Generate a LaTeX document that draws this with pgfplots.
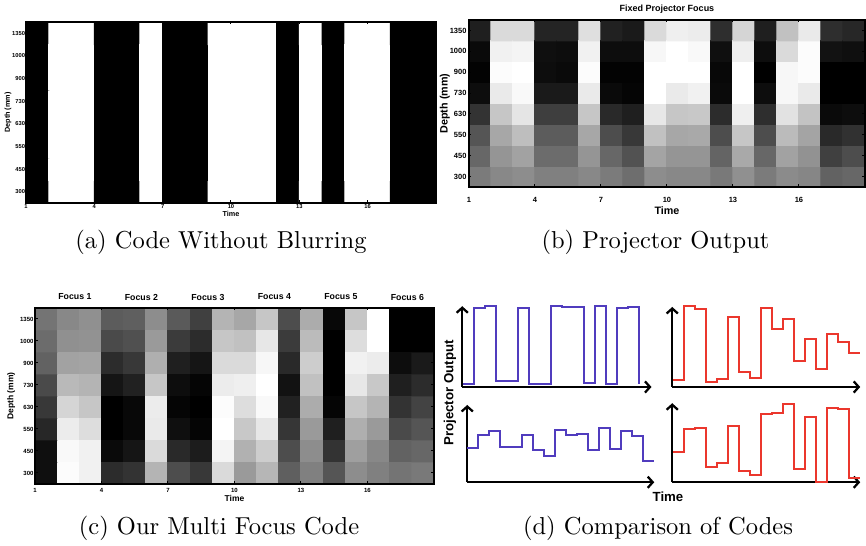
\documentclass[border=0pt]{standalone}
\usepackage{fontspec}
\setsansfont{Liberation Sans}
\usepackage{pgfplots}
\pgfplotsset{compat=1.18}
\usetikzlibrary{arrows.meta}
\definecolor{codeblue}{RGB}{80,60,190}
\definecolor{codered}{RGB}{235,55,45}
\pgfplotsset{
 hm/.style={scale only axis, anchor=south west, xmin=1, xmax=19, ymin=0.5, ymax=8.5,
  enlargelimits=false, axis on top, colormap/blackwhite, point meta min=0, point meta max=1,
  xtick={1,4,7,10,13,16}, ytick={1,2,3,4,5,6,7,8},
  yticklabels={300,450,550,630,730,900,1000,1350},
  major tick length=1pt, tick style={black, line width=0.4pt},
  /pgf/number format/assume math mode=true,
  axis line style={line width=0.5pt},
  ylabel={Depth (mm)}, xlabel={Time},
  yticklabel style={anchor=east, inner sep=0pt},
  xticklabel style={anchor=center, inner sep=0pt},
  xlabel style={anchor=center}, ylabel style={anchor=center, rotate=0}},
 st/.style={scale only axis, anchor=south west, axis lines=left, xtick=\empty, ytick=\empty,
  ymin=0, clip=false,
  axis line style={line width=0.9pt, -{Straight Barb[length=2pt,width=4.5pt]}}},
 sp/.style={line width=0.8pt, const plot, mark=none}
}
\newcommand{\sfb}[1]{\sffamily\bfseries\fontsize{#1}{#1}\selectfont}
\begin{document}
\begin{tikzpicture}
\path[use as bounding box] (0pt,0pt) rectangle (346.4pt,-218.4pt);
% (a)
\begin{axis}[hm, at={(10.4pt,-81.2pt)}, width=164pt, height=72.4pt,
  tick label style={font=\sfb{2.3}},
  label style={font=\sfb{2.9}},
  xticklabel style={yshift=-1.6pt},
  yticklabel style={xshift=-0.2pt},
  xlabel style={at={(axis description cs:0.5,-0.061)}},
  ylabel style={at={(axis description cs:-0.044,0.5)}}]
\addplot[matrix plot*, mesh/cols=18, point meta=explicit] coordinates {
(1.5,1)[0] (2.5,1)[1] (3.5,1)[1] (4.5,1)[0] (5.5,1)[0] (6.5,1)[1] (7.5,1)[0] (8.5,1)[0] (9.5,1)[1] (10.5,1)[1] (11.5,1)[1] (12.5,1)[0] (13.5,1)[1] (14.5,1)[0] (15.5,1)[1] (16.5,1)[1] (17.5,1)[0] (18.5,1)[0]
(1.5,2)[0] (2.5,2)[1] (3.5,2)[1] (4.5,2)[0] (5.5,2)[0] (6.5,2)[1] (7.5,2)[0] (8.5,2)[0] (9.5,2)[1] (10.5,2)[1] (11.5,2)[1] (12.5,2)[0] (13.5,2)[1] (14.5,2)[0] (15.5,2)[1] (16.5,2)[1] (17.5,2)[0] (18.5,2)[0]
(1.5,3)[0] (2.5,3)[1] (3.5,3)[1] (4.5,3)[0] (5.5,3)[0] (6.5,3)[1] (7.5,3)[0] (8.5,3)[0] (9.5,3)[1] (10.5,3)[1] (11.5,3)[1] (12.5,3)[0] (13.5,3)[1] (14.5,3)[0] (15.5,3)[1] (16.5,3)[1] (17.5,3)[0] (18.5,3)[0]
(1.5,4)[0] (2.5,4)[1] (3.5,4)[1] (4.5,4)[0] (5.5,4)[0] (6.5,4)[1] (7.5,4)[0] (8.5,4)[0] (9.5,4)[1] (10.5,4)[1] (11.5,4)[1] (12.5,4)[0] (13.5,4)[1] (14.5,4)[0] (15.5,4)[1] (16.5,4)[1] (17.5,4)[0] (18.5,4)[0]
(1.5,5)[0] (2.5,5)[1] (3.5,5)[1] (4.5,5)[0] (5.5,5)[0] (6.5,5)[1] (7.5,5)[0] (8.5,5)[0] (9.5,5)[1] (10.5,5)[1] (11.5,5)[1] (12.5,5)[0] (13.5,5)[1] (14.5,5)[0] (15.5,5)[1] (16.5,5)[1] (17.5,5)[0] (18.5,5)[0]
(1.5,6)[0] (2.5,6)[1] (3.5,6)[1] (4.5,6)[0] (5.5,6)[0] (6.5,6)[1] (7.5,6)[0] (8.5,6)[0] (9.5,6)[1] (10.5,6)[1] (11.5,6)[1] (12.5,6)[0] (13.5,6)[1] (14.5,6)[0] (15.5,6)[1] (16.5,6)[1] (17.5,6)[0] (18.5,6)[0]
(1.5,7)[0] (2.5,7)[1] (3.5,7)[1] (4.5,7)[0] (5.5,7)[0] (6.5,7)[1] (7.5,7)[0] (8.5,7)[0] (9.5,7)[1] (10.5,7)[1] (11.5,7)[1] (12.5,7)[0] (13.5,7)[1] (14.5,7)[0] (15.5,7)[1] (16.5,7)[1] (17.5,7)[0] (18.5,7)[0]
(1.5,8)[0] (2.5,8)[1] (3.5,8)[1] (4.5,8)[0] (5.5,8)[0] (6.5,8)[1] (7.5,8)[0] (8.5,8)[0] (9.5,8)[1] (10.5,8)[1] (11.5,8)[1] (12.5,8)[0] (13.5,8)[1] (14.5,8)[0] (15.5,8)[1] (16.5,8)[1] (17.5,8)[0] (18.5,8)[0]
};
\end{axis}
% (b)
\begin{axis}[hm, at={(187.6pt,-74.8pt)}, width=158.4pt, height=66.8pt,
  tick label style={font=\sfb{3.0}},
  label style={font=\sfb{4.3}},
  xticklabel style={yshift=-5.1pt},
  yticklabel style={xshift=-0.8pt},
  xlabel style={at={(axis description cs:0.5,-0.144)}},
  ylabel style={at={(axis description cs:-0.061,0.5)}},
  title={Fixed Projector Focus},
  title style={at={(axis description cs:0.5,1)}, anchor=center, yshift=-1.6pt, inner sep=0pt, font=\sfb{3.6}}]
\addplot[matrix plot*, mesh/cols=18, point meta=explicit] coordinates {
(1.5,1)[0.48] (2.5,1)[0.53] (3.5,1)[0.55] (4.5,1)[0.50] (5.5,1)[0.50] (6.5,1)[0.53] (7.5,1)[0.48] (8.5,1)[0.43] (9.5,1)[0.55] (10.5,1)[0.53] (11.5,1)[0.53] (12.5,1)[0.47] (13.5,1)[0.56] (14.5,1)[0.48] (15.5,1)[0.54] (16.5,1)[0.52] (17.5,1)[0.38] (18.5,1)[0.40]
(1.5,2)[0.40] (2.5,2)[0.58] (3.5,2)[0.63] (4.5,2)[0.42] (5.5,2)[0.42] (6.5,2)[0.58] (7.5,2)[0.40] (8.5,2)[0.32] (9.5,2)[0.64] (10.5,2)[0.58] (11.5,2)[0.58] (12.5,2)[0.39] (13.5,2)[0.66] (14.5,2)[0.40] (15.5,2)[0.63] (16.5,2)[0.57] (17.5,2)[0.25] (18.5,2)[0.30]
(1.5,3)[0.33] (2.5,3)[0.65] (3.5,3)[0.74] (4.5,3)[0.36] (5.5,3)[0.36] (6.5,3)[0.65] (7.5,3)[0.30] (8.5,3)[0.22] (9.5,3)[0.75] (10.5,3)[0.65] (11.5,3)[0.66] (12.5,3)[0.30] (13.5,3)[0.77] (14.5,3)[0.30] (15.5,3)[0.73] (16.5,3)[0.64] (17.5,3)[0.16] (18.5,3)[0.19]
(1.5,4)[0.20] (2.5,4)[0.77] (3.5,4)[0.89] (4.5,4)[0.24] (5.5,4)[0.24] (6.5,4)[0.77] (7.5,4)[0.16] (8.5,4)[0.12] (9.5,4)[0.90] (10.5,4)[0.77] (11.5,4)[0.78] (12.5,4)[0.17] (13.5,4)[0.93] (14.5,4)[0.18] (15.5,4)[0.88] (16.5,4)[0.76] (17.5,4)[0.04] (18.5,4)[0.05]
(1.5,5)[0.05] (2.5,5)[0.91] (3.5,5)[0.97] (4.5,5)[0.10] (5.5,5)[0.10] (6.5,5)[0.91] (7.5,5)[0.04] (8.5,5)[0.02] (9.5,5)[1.00] (10.5,5)[0.91] (11.5,5)[0.94] (12.5,5)[0.04] (13.5,5)[1.00] (14.5,5)[0.05] (15.5,5)[0.96] (16.5,5)[0.91] (17.5,5)[0.00] (18.5,5)[0.00]
(1.5,6)[0.01] (2.5,6)[0.98] (3.5,6)[1.00] (4.5,6)[0.05] (5.5,6)[0.04] (6.5,6)[0.98] (7.5,6)[0.01] (8.5,6)[0.01] (9.5,6)[1.00] (10.5,6)[1.00] (11.5,6)[1.00] (12.5,6)[0.03] (13.5,6)[1.00] (14.5,6)[0.00] (15.5,6)[0.96] (16.5,6)[0.98] (17.5,6)[0.00] (18.5,6)[0.00]
(1.5,7)[0.04] (2.5,7)[0.94] (3.5,7)[0.95] (4.5,7)[0.06] (5.5,7)[0.05] (6.5,7)[0.94] (7.5,7)[0.05] (8.5,7)[0.05] (9.5,7)[0.96] (10.5,7)[1.00] (11.5,7)[0.97] (12.5,7)[0.06] (13.5,7)[0.93] (14.5,7)[0.05] (15.5,7)[0.85] (16.5,7)[0.98] (17.5,7)[0.07] (18.5,7)[0.06]
(1.5,8)[0.12] (2.5,8)[0.85] (3.5,8)[0.85] (4.5,8)[0.14] (5.5,8)[0.14] (6.5,8)[0.87] (7.5,8)[0.13] (8.5,8)[0.10] (9.5,8)[0.85] (10.5,8)[0.93] (11.5,8)[0.92] (12.5,8)[0.18] (13.5,8)[0.83] (14.5,8)[0.12] (15.5,8)[0.75] (16.5,8)[0.91] (17.5,8)[0.18] (18.5,8)[0.15]
};
\end{axis}
% (c)
\begin{axis}[hm, at={(14pt,-193.6pt)}, width=159.6pt, height=70.4pt, clip mode=individual,
  tick label style={font=\sfb{2.4}},
  label style={font=\sfb{3.4}},
  xticklabel style={yshift=-2.4pt},
  yticklabel style={xshift=-0.4pt},
  xlabel style={at={(axis description cs:0.5,-0.08)}},
  ylabel style={at={(axis description cs:-0.06,0.5)}}]
\addplot[matrix plot*, mesh/cols=18, point meta=explicit] coordinates {
(1.5,1)[0.06] (2.5,1)[0.98] (3.5,1)[0.94] (4.5,1)[0.17] (5.5,1)[0.20] (6.5,1)[0.70] (7.5,1)[0.30] (8.5,1)[0.22] (9.5,1)[0.85] (10.5,1)[0.60] (11.5,1)[0.71] (12.5,1)[0.37] (13.5,1)[0.50] (14.5,1)[0.33] (15.5,1)[0.55] (16.5,1)[0.50] (17.5,1)[0.45] (18.5,1)[0.47]
(1.5,2)[0.06] (2.5,2)[0.97] (3.5,2)[0.94] (4.5,2)[0.04] (5.5,2)[0.08] (6.5,2)[0.85] (7.5,2)[0.16] (8.5,2)[0.11] (9.5,2)[0.95] (10.5,2)[0.69] (11.5,2)[0.80] (12.5,2)[0.30] (13.5,2)[0.55] (14.5,2)[0.20] (15.5,2)[0.62] (16.5,2)[0.53] (17.5,2)[0.38] (18.5,2)[0.40]
(1.5,3)[0.15] (2.5,3)[0.92] (3.5,3)[0.86] (4.5,3)[0.00] (5.5,3)[0.03] (6.5,3)[0.91] (7.5,3)[0.06] (8.5,3)[0.02] (9.5,3)[1.00] (10.5,3)[0.78] (11.5,3)[0.90] (12.5,3)[0.21] (13.5,3)[0.60] (14.5,3)[0.12] (15.5,3)[0.68] (16.5,3)[0.60] (17.5,3)[0.29] (18.5,3)[0.33]
(1.5,4)[0.22] (2.5,4)[0.83] (3.5,4)[0.77] (4.5,4)[0.00] (5.5,4)[0.03] (6.5,4)[0.92] (7.5,4)[0.02] (8.5,4)[0.00] (9.5,4)[0.98] (10.5,4)[0.86] (11.5,4)[0.97] (12.5,4)[0.13] (13.5,4)[0.67] (14.5,4)[0.02] (15.5,4)[0.77] (16.5,4)[0.70] (17.5,4)[0.20] (18.5,4)[0.26]
(1.5,5)[0.29] (2.5,5)[0.72] (3.5,5)[0.70] (4.5,5)[0.08] (5.5,5)[0.13] (6.5,5)[0.77] (7.5,5)[0.05] (8.5,5)[0.02] (9.5,5)[0.92] (10.5,5)[0.93] (11.5,5)[1.00] (12.5,5)[0.07] (13.5,5)[0.75] (14.5,5)[0.00] (15.5,5)[0.90] (16.5,5)[0.78] (17.5,5)[0.12] (18.5,5)[0.17]
(1.5,6)[0.38] (2.5,6)[0.63] (3.5,6)[0.64] (4.5,6)[0.17] (5.5,6)[0.22] (6.5,6)[0.68] (7.5,6)[0.12] (8.5,6)[0.08] (9.5,6)[0.85] (10.5,6)[0.85] (11.5,6)[0.96] (12.5,6)[0.16] (13.5,6)[0.80] (14.5,6)[0.00] (15.5,6)[0.94] (16.5,6)[0.92] (17.5,6)[0.05] (18.5,6)[0.10]
(1.5,7)[0.42] (2.5,7)[0.56] (3.5,7)[0.57] (4.5,7)[0.29] (5.5,7)[0.31] (6.5,7)[0.60] (7.5,7)[0.23] (8.5,7)[0.17] (9.5,7)[0.77] (10.5,7)[0.75] (11.5,7)[0.90] (12.5,7)[0.23] (13.5,7)[0.73] (14.5,7)[0.00] (15.5,7)[0.86] (16.5,7)[1.00] (17.5,7)[0.00] (18.5,7)[0.00]
(1.5,8)[0.45] (2.5,8)[0.53] (3.5,8)[0.56] (4.5,8)[0.36] (5.5,8)[0.37] (6.5,8)[0.55] (7.5,8)[0.35] (8.5,8)[0.25] (9.5,8)[0.70] (10.5,8)[0.65] (11.5,8)[0.77] (12.5,8)[0.30] (13.5,8)[0.67] (14.5,8)[0.03] (15.5,8)[0.77] (16.5,8)[1.00] (17.5,8)[0.00] (18.5,8)[0.00]
};
\node[font=\sfb{3.5}, yshift=4.4pt] at (axis cs:2.8,8.5) {Focus 1};
\node[font=\sfb{3.5}, yshift=4.4pt] at (axis cs:5.8,8.5) {Focus 2};
\node[font=\sfb{3.5}, yshift=4.4pt] at (axis cs:8.8,8.5) {Focus 3};
\node[font=\sfb{3.5}, yshift=4.4pt] at (axis cs:11.8,8.5) {Focus 4};
\node[font=\sfb{3.5}, yshift=4.4pt] at (axis cs:14.8,8.5) {Focus 5};
\node[font=\sfb{3.5}, yshift=4.4pt] at (axis cs:17.8,8.5) {Focus 6};
\end{axis}
% (d) top left
\begin{axis}[st, at={(184.9pt,-154.8pt)}, width=75.7pt, height=32.3pt, xmin=-0.1, xmax=17.1, ymax=242]
\addplot[sp, codeblue] coordinates {(0,10) (1,237) (2,242) (3,19) (4,17) (5,237) (6,10) (7,10) (8,242) (9,241) (10,241) (11,12) (12,242) (13,10) (14,237) (15,239) (16,239) (16,10)};
\end{axis}
% (d) top right
\begin{axis}[st, at={(268.9pt,-154.8pt)}, width=75.2pt, height=32pt, xmin=-0.1, xmax=17.0, ymax=240]
\addplot[sp, codered] coordinates {(0,20) (1,242) (2,234) (3,15) (4,24) (5,209) (6,44) (7,27) (8,237) (9,174) (10,204) (11,77) (12,144) (13,54) (14,159) (15,135) (16,102) (17,102)};
\end{axis}
% (d) bottom left
\begin{axis}[st, at={(186.9pt,-192.9pt)}, width=74.8pt, height=30.9pt, xmin=0, xmax=17.0, ymax=232]
\addplot[sp, codeblue] coordinates {(0,102) (1,142) (2,155) (3,107) (4,105) (5,142) (6,97) (7,80) (8,158) (9,142) (10,145) (11,97) (12,162) (13,100) (14,154) (15,138) (16,65) (17,65)};
\end{axis}
% (d) bottom right
\begin{axis}[st, at={(268.9pt,-192.9pt)}, width=75.2pt, height=31.6pt, xmin=-0.1, xmax=17.0, ymax=237]
\addplot[sp, codered] coordinates {(0,92) (1,159) (2,162) (3,47) (4,57) (5,170) (6,35) (7,22) (8,204) (9,207) (10,234) (11,40) (12,196) (13,0) (14,224) (15,221) (16,12) (17,12)};
\end{axis}
\node[font=\sfb{5.3}, rotate=90] at (180pt,-157.2pt) {Projector Output};
\node[font=\sfb{5.3}] at (267.2pt,-198.8pt) {Time};
% captions
\node[font=\fontsize{9.8}{12}\selectfont] at (88.4pt,-96.8pt) {(a) Code Without Blurring};
\node[font=\fontsize{9.8}{12}\selectfont] at (262.2pt,-96.8pt) {(b) Projector Output};
\node[font=\fontsize{9.8}{12}\selectfont] at (87.6pt,-211.2pt) {(c) Our Multi Focus Code};
\node[font=\fontsize{9.8}{12}\selectfont] at (263.2pt,-211.2pt) {(d) Comparison of Codes};
\end{tikzpicture}
\end{document}
